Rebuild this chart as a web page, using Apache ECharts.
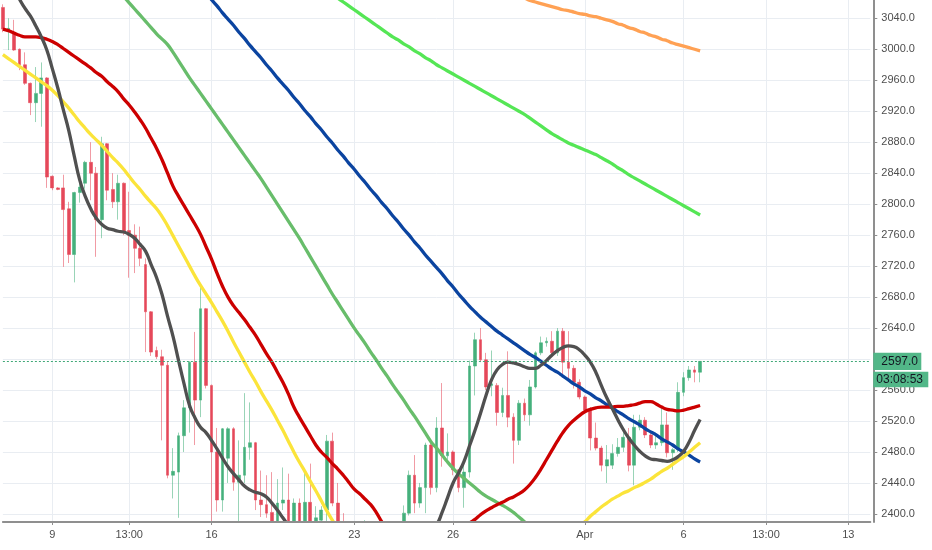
<!DOCTYPE html>
<html>
<head>
<meta charset="utf-8">
<script src="https://cdn.jsdelivr.net/npm/echarts@6/dist/echarts.min.js"></script>
<style>
  html, body { margin: 0; padding: 0; background: #fff; }
  #chart { width: 932px; height: 550px; }
</style>
</head>
<body>
<div id="chart"></div>
<script>
// x axis: one slot per bar, labels only on a few slots
const slotCount = 159;
const xTickIndex = [9, 23, 38, 64, 82, 106, 124, 139, 154];
const xTickText = ['9', '13:00', '16', '23', '26', 'Apr', '6', '13:00', '13'];

// price axis
const yMin = 2389.6;
const yMax = 3063.6;
const yTicks = [2400, 2440, 2480, 2520, 2560, 2600, 2640, 2680, 2720, 2760, 2800,
                2840, 2880, 2920, 2960, 3000, 3040];

const lastPrice = 2597;
const countdown = '03:08:53';

// [open, close, low, high]
const candles = [
  [3054,3026,3022,3058],[3024,3027,2999,3040],[3022,2999,2998,3038],[3000,2980,2973,3001],
  [2980,2956,2954,2996],[2956,2931,2915,2957],[2931,2943,2906,2977],[2943,2963,2900,2983],
  [2963,2835,2821,2964],[2836,2821,2818,2837],[2821,2819,2818,2822],[2821,2793,2719,2838],
  [2794,2735,2724,2803],[2735,2815,2699,2816],[2815,2822,2802,2831],[2827,2854,2820,2856],
  [2854,2840,2805,2880],[2840,2780,2732,2848],[2780,2878,2756,2887],[2878,2818,2805,2879],
  [2819,2803,2795,2840],[2803,2827,2780,2838],[2827,2765,2760,2828],[2766,2760,2705,2816],
  [2760,2743,2711,2774],[2743,2730,2720,2771],[2722,2661,2609,2730],[2661,2609,2604,2662],
  [2611,2603,2600,2616],[2603,2592,2495,2612],[2592,2450,2446,2596],[2450,2455,2420,2485],
  [2454,2501,2395,2505],[2501,2537,2480,2547],[2537,2596,2505,2597],[2596,2547,2489,2635],
  [2547,2665,2525,2696],[2665,2566,2562,2666],[2566,2480,2388,2567],[2480,2418,2403,2511],
  [2418,2510,2403,2511],[2472,2510,2440,2512],[2510,2441,2430,2512],[2441,2450,2390,2495],
  [2450,2486,2440,2556],[2486,2492,2470,2544],[2492,2418,2405,2493],[2418,2412,2396,2456],
  [2412,2401,2395,2450],[2402,2390,2388,2454],[2390,2414,2385,2445],[2414,2418,2405,2460],
  [2418,2386,2380,2452],[2386,2414,2383,2420],[2414,2386,2380,2420],[2386,2415,2383,2456],
  [2415,2388,2384,2465],[2390,2395,2380,2410],[2392,2405,2388,2410],[2405,2494,2390,2502],
  [2494,2414,2410,2505],[2414,2390,2385,2440],[2388,2378,2370,2401],[2378,2383,2365,2388],
  [2383,2372,2362,2388],[2372,2365,2355,2380],[2365,2375,2360,2392],[2375,2360,2352,2380],
  [2360,2372,2355,2385],[2372,2378,2365,2386],[2378,2370,2362,2385],[2370,2380,2365,2387],
  [2380,2384,2372,2388],[2386,2401,2380,2411],[2401,2450,2398,2456],[2450,2414,2401,2476],
  [2414,2434,2408,2440],[2434,2489,2401,2492],[2489,2434,2425,2492],[2434,2511,2428,2525],
  [2511,2475,2461,2569],[2475,2480,2470,2504],[2480,2457,2450,2482],[2457,2434,2428,2458],
  [2434,2454,2408,2466],[2454,2591,2447,2598],[2591,2625,2553,2634],[2625,2599,2596,2640],
  [2599,2564,2560,2608],[2566,2568,2552,2611],[2566,2531,2514,2569],[2531,2553,2525,2563],
  [2553,2525,2512,2610],[2525,2495,2465,2530],[2495,2543,2489,2547],[2543,2528,2520,2549],
  [2528,2564,2514,2573],[2564,2608,2562,2610],[2608,2621,2605,2629],[2621,2623,2616,2628],
  [2623,2608,2604,2636],[2608,2636,2604,2640],[2636,2596,2579,2640],[2596,2588,2575,2636],
  [2588,2570,2562,2592],[2570,2551,2548,2574],[2551,2534,2530,2553],[2534,2498,2482,2538],
  [2498,2485,2482,2518],[2485,2463,2455,2488],[2462,2470,2440,2489],[2463,2478,2458,2490],
  [2478,2486,2474,2498],[2486,2499,2480,2508],[2499,2463,2455,2511],[2463,2512,2437,2528],
  [2512,2521,2508,2528],[2521,2502,2498,2525],[2502,2489,2485,2507],[2489,2492,2484,2505],
  [2492,2515,2488,2538],[2515,2479,2473,2531],[2479,2483,2457,2485],[2483,2557,2480,2570],
  [2557,2576,2552,2583],[2576,2586,2572,2591],[2586,2583,2570,2591],[2583,2597,2570,2597]
];

// moving averages, one value per bar from its first bar
const maRedStart = 0;
const maRed = [
  3026,3024,3021,3018,3016,3016,3016,3015,3013,3010,
  3006,3001,2996,2991,2986,2981,2976,2970,2965,2958,
  2952,2945,2936,2928,2919,2909,2898,2885,2872,2857,
  2840,2823,2810,2798,2786,2774,2761,2745,2729,2711,
  2694,2680,2669,2660,2651,2641,2631,2619,2607,2596,
  2583,2570,2555,2538,2525,2513,2501,2489,2480,2473,
  2465,2458,2450,2441,2432,2426,2419,2412,2402,2390,
  2380,2372,2366,2361,2358,2356,2355,2355,2356,2358,
  2361,2365,2370,2375,2380,2388,2393,2399,2404,2408,
  2412,2415,2419,2422,2426,2431,2438,2447,2458,2470,
  2482,2494,2505,2514,2521,2527,2532,2535,2537,2538,
  2538,2538,2539,2539,2540,2541,2543,2545,2545,2542,
  2538,2535,2534,2533,2534,2536,2538,2540
];

const maGrayStart = 0;
const maGray = [
  3105,3092,3078,3065,3053,3043,3030,3016,2999,2975,
  2950,2922,2895,2862,2831,2810,2794,2782,2774,2769,
  2767,2765,2764,2761,2756,2748,2739,2722,2705,2683,
  2655,2629,2598,2568,2540,2524,2512,2505,2495,2484,
  2472,2461,2452,2444,2436,2431,2428,2426,2422,2414,
  2405,2395,2385,2373,2360,2347,2334,2322,2310,2300,
  2291,2283,2277,2273,2270,2269,2270,2273,2278,2285,
  2294,2305,2317,2330,2343,2355,2366,2374,2380,2386,
  2402,2421,2440,2453,2468,2488,2508,2530,2553,2573,
  2586,2593,2596,2595,2593,2590,2588,2588,2592,2598,
  2605,2611,2615,2617,2616,2612,2605,2596,2583,2566,
  2550,2536,2522,2509,2498,2489,2481,2475,2471,2470,
  2469,2468,2470,2474,2481,2493,2508,2522
];

const maYellowStart = 0;
const maYellow = [
  2993,2988,2983,2978,2973,2968,2963,2958,2953,2947,
  2940,2932,2924,2915,2906,2898,2890,2883,2876,2868,
  2860,2853,2845,2836,2827,2819,2810,2802,2794,2784,
  2772,2759,2746,2733,2720,2707,2695,2684,2673,2661,
  2649,2636,2622,2609,2596,2583,2571,2558,2546,2534,
  2521,2508,2494,2480,2467,2455,2442,2430,2417,2404,
  2392,2380,2369,2358,2348,2338,2328,2319,2310,2302,
  2295,2288,2282,2277,2272,2268,2265,2262,2260,2259,
  2258,2258,2259,2260,2262,2265,2268,2272,2276,2281,
  2286,2292,2298,2305,2312,2319,2326,2334,2342,2350,
  2358,2365,2372,2378,2383,2386,2390,2397,2403,2409,
  2414,2419,2423,2427,2430,2434,2437,2441,2445,2450,
  2455,2459,2464,2469,2474,2480,2486,2492
];

const maGreenStart = 20;
const maGreen = [
  3083,3076,3068,3060,3052,3044,3036,3028,3020,3013,
  3006,2996,2985,2974,2963,2953,2943,2933,2923,2913,
  2903,2893,2883,2873,2863,2853,2843,2833,2822,2811,
  2800,2789,2778,2767,2756,2744,2732,2720,2708,2696,
  2684,2673,2662,2651,2640,2630,2620,2609,2599,2588,
  2578,2567,2557,2547,2536,2526,2515,2504,2493,2485,
  2476,2467,2459,2452,2446,2440,2434,2428,2423,2419,
  2415,2411,2407,2402,2396,2390,2384,2378
];

const maLimeStart = 58;
const maLime = [
  3082,3077,3071,3066,3061,3056,3051,3046,3041,3036,
  3031,3026,3021,3016,3012,3007,3003,2998,2994,2989,
  2985,2980,2976,2972,2968,2964,2960,2956,2952,2948,
  2944,2940,2936,2932,2928,2924,2920,2916,2911,2906,
  2901,2896,2891,2887,2883,2879,2876,2873,2870,2867,
  2864,2860,2856,2852,2847,2843,2838,2834,2830,2826,
  2822,2818,2814,2810,2806,2802,2798,2794,2790,2786
];

const maBlueStart = 36;
const maBlue = [
  3081,3073,3064,3056,3047,3039,3031,3022,3014,3005,
  2997,2989,2980,2972,2963,2955,2947,2938,2930,2921,
  2913,2904,2896,2887,2879,2870,2862,2853,2845,2836,
  2828,2819,2811,2802,2794,2785,2777,2768,2760,2751,
  2743,2734,2726,2718,2710,2701,2693,2684,2676,2668,
  2661,2654,2648,2642,2636,2631,2626,2621,2616,2611,
  2606,2602,2597,2592,2587,2583,2578,2573,2568,2564,
  2559,2555,2550,2546,2541,2537,2532,2528,2523,2519,
  2515,2510,2506,2502,2497,2493,2489,2484,2480,2476,
  2471,2467
];

const maOrangeStart = 94;
const maOrange = [
  3068,3066,3063,3061,3059,3057,3055,3053,3051,3050,
  3048,3046,3045,3043,3042,3040,3038,3036,3033,3031,
  3028,3026,3023,3021,3018,3016,3013,3011,3008,3006,
  3004,3002,3000,2998
];

const categories = new Array(slotCount).fill('');
xTickIndex.forEach((idx, k) => { categories[idx] = xTickText[k]; });
const isTick = (i, v) => v !== '';

function fromBar(start, vals) {
  return new Array(start).fill(null).concat(vals);
}

const axisColor = '#8f8f8f';
const gridColor = '#e9edf2';
const labelColor = '#4e4e4e';
const font = 'Liberation Sans, Arial, sans-serif';
const tagGreen = '#52b788';

function maLine(name, start, vals, color) {
  return {
    type: 'line',
    name: name,
    data: fromBar(start, vals),
    smooth: true,
    showSymbol: false,
    symbol: 'none',
    clip: true,
    lineStyle: { color: color, width: 3.3 },
    silent: true
  };
}

const chart = echarts.init(document.getElementById('chart'), null, { renderer: 'canvas' });
chart.setOption({
  animation: false,
  backgroundColor: '#ffffff',
  grid: { left: 2.9, right: 61.7, top: 0, bottom: 28 },
  // white strip under the plot: bars that run past the bottom are cut at the axis
  graphic: [{
    type: 'rect', z: 5, silent: true,
    shape: { x: 0, y: 523, width: 872, height: 27 },
    style: { fill: '#ffffff' }
  }],
  xAxis: [
    {
      // grid lines only, behind the bars
      type: 'category',
      data: categories,
      boundaryGap: false,
      axisLine: { show: false },
      axisTick: { show: false },
      axisLabel: { show: false },
      splitLine: { show: true, interval: isTick, lineStyle: { color: gridColor, width: 1 } }
    },
    {
      // axis line, ticks and labels, above the white strip
      type: 'category',
      data: categories,
      boundaryGap: false,
      position: 'bottom',
      z: 10,
      axisLine: { lineStyle: { color: axisColor, width: 2 } },
      axisTick: { show: true, interval: isTick, length: 3, lineStyle: { color: axisColor } },
      axisLabel: { interval: isTick, color: labelColor, fontSize: 11, margin: 7, fontFamily: font },
      splitLine: { show: false }
    }
  ],
  yAxis: {
    type: 'value',
    position: 'right',
    offset: 3,
    min: yMin,
    max: yMax,
    axisLine: { show: true, lineStyle: { color: axisColor, width: 2 } },
    axisTick: { show: true, length: 4, customValues: yTicks, lineStyle: { color: axisColor } },
    axisLabel: {
      customValues: yTicks,
      formatter: v => v.toFixed(1),
      color: labelColor, fontSize: 11, margin: 8, fontFamily: font
    },
    splitLine: { show: true, lineStyle: { color: gridColor, width: 1 } }
  },
  series: [
    {
      type: 'candlestick',
      data: candles,
      barWidth: 3.2,
      clip: true,
      itemStyle: {
        color: '#45b07c',
        color0: '#e5485a',
        borderColor: 'rgba(69,176,124,0.55)',
        borderColor0: 'rgba(229,72,90,0.55)',
        borderWidth: 1
      },
      markLine: {
        silent: true,
        symbol: ['none', 'none'],
        data: [{ yAxis: lastPrice }],
        lineStyle: { color: '#3fa877', type: [2, 2], width: 1 },
        label: {
          show: true,
          position: 'end',
          distance: 3,
          formatter: '{e| }\n{a|' + lastPrice.toFixed(1) + '}\n{s| }\n{b|' + countdown + '}',
          rich: {
            e: { height: 17.3, fontSize: 1 },
            s: { height: 1.7, fontSize: 1 },
            a: { backgroundColor: tagGreen, color: '#131722', fontSize: 12, fontFamily: font,
                 height: 17.3, width: 40, padding: [0, 0, 0, 8] },
            b: { backgroundColor: tagGreen, color: '#131722', fontSize: 12, fontFamily: font,
                 height: 15.6, width: 52, padding: [0, 0, 0, 3] }
          }
        }
      }
    },
    maLine('MA blue', maBlueStart, maBlue, '#0b44a0'),
    maLine('MA green', maGreenStart, maGreen, '#68bd6b'),
    maLine('MA lime', maLimeStart, maLime, '#55e655'),
    maLine('MA orange', maOrangeStart, maOrange, '#ffa154'),
    maLine('MA yellow', maYellowStart, maYellow, '#fbe43a'),
    maLine('MA red', maRedStart, maRed, '#cc0000'),
    maLine('MA gray', maGrayStart, maGray, '#505050')
  ]
});
</script>
</body>
</html>
